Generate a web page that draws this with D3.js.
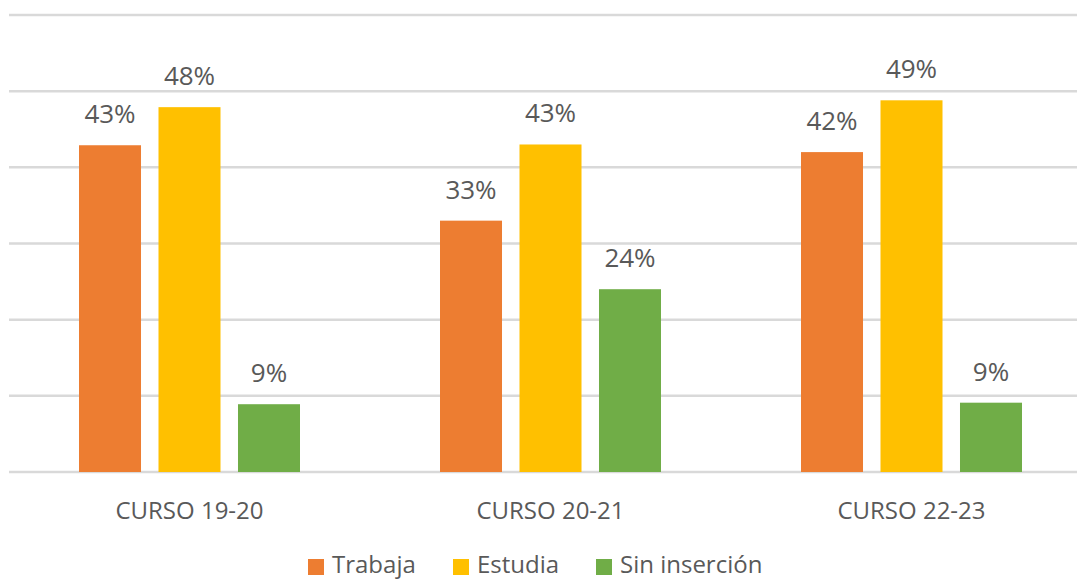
<!DOCTYPE html>
<html>
<head>
<meta charset="utf-8">
<script src="https://cdn.jsdelivr.net/npm/d3@7"></script>
<style>
  body { margin: 0; background: #fff; }
  svg { display: block; font-family: "Open Sans", "Noto Sans", sans-serif; }
</style>
</head>
<body>
<svg id="chart" width="1077" height="580"></svg>
<script>
var categories = ["CURSO 19-20", "CURSO 20-21", "CURSO 22-23"];
var seriesNames = ["Trabaja", "Estudia", "Sin inserción"];
var trabaja = [42.9, 33.0, 42.0];
var estudia = [47.9, 43.0, 48.8];
var sinInsercion = [8.9, 24.0, 9.1];
var yTicks = [0, 10, 20, 30, 40, 50, 60];

var colors = ["#ED7D31", "#FFC000", "#70AD47"];
var seriesValues = [trabaja, estudia, sinInsercion];

var svg = d3.select("#chart");

var x0 = d3.scaleBand()
	.domain(categories)
	.range([9, 1092]);

var x1 = d3.scaleBand()
	.domain(seriesNames)
	.range([70, 291])
	.paddingInner(0.22);

var y = d3.scaleLinear()
	.domain([0, 60])
	.range([472, 15]);

// gridlines
svg.append("g")
	.selectAll("line")
	.data(yTicks)
	.enter().append("line")
	.attr("x1", 9)
	.attr("x2", 1077)
	.attr("y1", function (d) { return y(d); })
	.attr("y2", function (d) { return y(d); })
	.attr("stroke", "#D9D9D9")
	.attr("stroke-width", 2.5);

var rows = [];
categories.forEach(function (c, i) {
	seriesNames.forEach(function (s, j) {
		rows.push({ cat: c, series: s, value: seriesValues[j][i], color: colors[j] });
	});
});

var bars = svg.append("g");

bars.selectAll("rect")
	.data(rows)
	.enter().append("rect")
	.attr("x", function (d) { return x0(d.cat) + x1(d.series); })
	.attr("y", function (d) { return y(d.value); })
	.attr("width", x1.bandwidth())
	.attr("height", function (d) { return y(0) - y(d.value); })
	.attr("fill", function (d) { return d.color; });

bars.selectAll("text")
	.data(rows)
	.enter().append("text")
	.attr("x", function (d) { return x0(d.cat) + x1(d.series) + x1.bandwidth() / 2; })
	.attr("y", function (d) { return y(d.value) - 22; })
	.attr("text-anchor", "middle")
	.attr("font-size", 26)
	.attr("fill", "#595959")
	.text(function (d) { return Math.round(d.value) + "%"; });

// category labels
svg.append("g")
	.selectAll("text")
	.data(categories)
	.enter().append("text")
	.attr("x", function (d) { return x0(d) + x0.bandwidth() / 2; })
	.attr("y", 519)
	.attr("text-anchor", "middle")
	.attr("font-size", 24)
	.attr("fill", "#595959")
	.text(function (d) { return d; });

// legend
var legendX = [308, 453, 596];
var legend = svg.append("g")
	.selectAll("g")
	.data(seriesNames)
	.enter().append("g")
	.attr("transform", function (d, i) { return "translate(" + legendX[i] + ",559)"; });

legend.append("rect")
	.attr("width", 16)
	.attr("height", 16)
	.attr("fill", function (d, i) { return colors[i]; });

legend.append("text")
	.attr("x", 24)
	.attr("y", 14)
	.attr("font-size", 24)
	.attr("fill", "#595959")
	.text(function (d) { return d; });
</script>
</body>
</html>
